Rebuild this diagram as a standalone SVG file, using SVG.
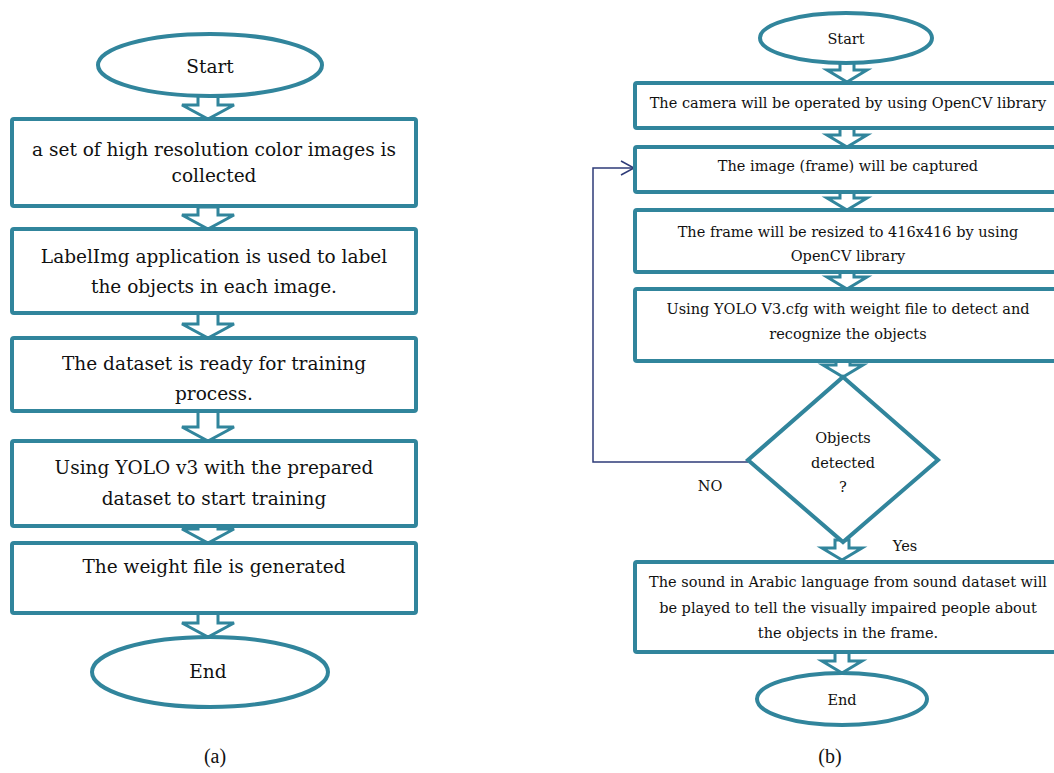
<svg xmlns="http://www.w3.org/2000/svg" width="1054" height="773" viewBox="0 0 1054 773">
<style>
.sh{fill:#fff;stroke:#31859C;stroke-width:4}
.ar{fill:#fff;stroke:#31859C;stroke-width:3;stroke-linejoin:miter}
.t{font-family:"DejaVu Serif","Liberation Serif",serif;fill:#111;text-anchor:middle}
.a{font-size:18.5px}
.b{font-size:14.5px}
.c{font-family:"Liberation Serif",serif;font-size:20px;fill:#111;text-anchor:middle}
.fb{fill:none;stroke:#2E3B78;stroke-width:1.5}
</style>
<rect width="1054" height="773" fill="#fff"/>
<g id="connectors">
<polygon class="ar" points="198,95 218,95 218,105 234,105 208,119 182,105 198,105"/>
<polygon class="ar" points="198,207 218,207 218,215 234,215 208,229 182,215 198,215"/>
<polygon class="ar" points="198,313 218,313 218,324 234,324 208,338 182,324 198,324"/>
<polygon class="ar" points="198,411 218,411 218,427 234,427 208,441 182,427 198,427"/>
<polygon class="ar" points="198,526 218,526 218,529 234,529 208,543 182,529 198,529"/>
<polygon class="ar" points="198,613 218,613 218,623 234,623 208,637 182,623 198,623"/>
<polygon class="ar" points="840,62 854,62 854,70 867,70 847,82 827,70 840,70"/>
<polygon class="ar" points="840,128 854,128 854,135 867,135 847,147 827,135 840,135"/>
<polygon class="ar" points="840,192 854,192 854,198 867,198 847,210 827,198 840,198"/>
<polygon class="ar" points="840,272 854,272 854,277 867,277 847,289 827,277 840,277"/>
<polygon class="ar" points="836,361 850,361 850,365 863,365 843,377 823,365 836,365"/>
<polygon class="ar" points="835,540 849,540 849,548 862,548 842,560 822,548 835,548"/>
<polygon class="ar" points="835,652 849,652 849,661 862,661 842,673 822,661 835,661"/>
<path class="fb" d="M748,462 H593 V168 H634"/>
<path class="fb" d="M621,161 L634,168 L621,175"/>
<text class="t b" x="710" y="491">NO</text>
<text class="t b" x="905" y="551">Yes</text>
</g>
<g id="a-start"><ellipse class="sh" cx="210" cy="65" rx="112" ry="31"/><text class="t a" x="210" y="73">Start</text></g>
<g id="a-box1"><rect class="sh" x="12" y="119" width="404" height="87" rx="2"/><text class="t a" x="214" y="156">a set of high resolution color images is</text><text class="t a" x="214" y="182">collected</text></g>
<g id="a-box2"><rect class="sh" x="12" y="229" width="404" height="84" rx="2"/><text class="t a" x="214" y="263">LabelImg application is used to label</text><text class="t a" x="214" y="293">the objects in each image.</text></g>
<g id="a-box3"><rect class="sh" x="12" y="338" width="404" height="73" rx="2"/><text class="t a" x="214" y="370">The dataset is ready for training</text><text class="t a" x="214" y="400">process.</text></g>
<g id="a-box4"><rect class="sh" x="12" y="441" width="404" height="85" rx="2"/><text class="t a" x="214" y="474">Using YOLO v3 with the prepared</text><text class="t a" x="214" y="505">dataset to start training</text></g>
<g id="a-box5"><rect class="sh" x="12" y="543" width="404" height="70" rx="2"/><text class="t a" x="214" y="573">The weight file is generated</text></g>
<g id="a-end"><ellipse class="sh" cx="210" cy="672" rx="118" ry="35"/><text class="t a" x="208" y="678">End</text></g>
<text class="c" x="215" y="763">(a)</text>
<g id="b-start"><ellipse class="sh" cx="846" cy="38" rx="86" ry="25"/><text class="t b" x="846" y="44">Start</text></g>
<g id="b-box1"><rect class="sh" x="635" y="83" width="430" height="45" rx="2"/><text class="t b" x="848" y="108">The camera will be operated by using OpenCV library</text></g>
<g id="b-box2"><rect class="sh" x="635" y="147" width="430" height="45" rx="2"/><text class="t b" x="848" y="171">The image (frame) will be captured</text></g>
<g id="b-box3"><rect class="sh" x="635" y="210" width="430" height="62" rx="2"/><text class="t b" x="848" y="237">The frame will be resized to 416x416 by using</text><text class="t b" x="848" y="261">OpenCV library</text></g>
<g id="b-box4"><rect class="sh" x="635" y="289" width="430" height="72" rx="2"/><text class="t b" x="848" y="314">Using YOLO V3.cfg with weight file to detect and</text><text class="t b" x="848" y="339">recognize the objects</text></g>
<g id="b-diamond"><polygon class="sh" points="843,377 938,460 843,542 748,460"/><text class="t b" x="843" y="443">Objects</text><text class="t b" x="843" y="468">detected</text><text class="t b" x="843" y="492">?</text></g>
<g id="b-box5"><rect class="sh" x="635" y="562" width="430" height="90" rx="2"/><text class="t b" x="848" y="587">The sound in Arabic language from sound dataset will</text><text class="t b" x="848" y="613">be played to tell the visually impaired people about</text><text class="t b" x="848" y="638">the objects in the frame.</text></g>
<g id="b-end"><ellipse class="sh" cx="842" cy="699" rx="85" ry="26"/><text class="t b" x="842" y="705">End</text></g>
<text class="c" x="830" y="763">(b)</text>
</svg>
